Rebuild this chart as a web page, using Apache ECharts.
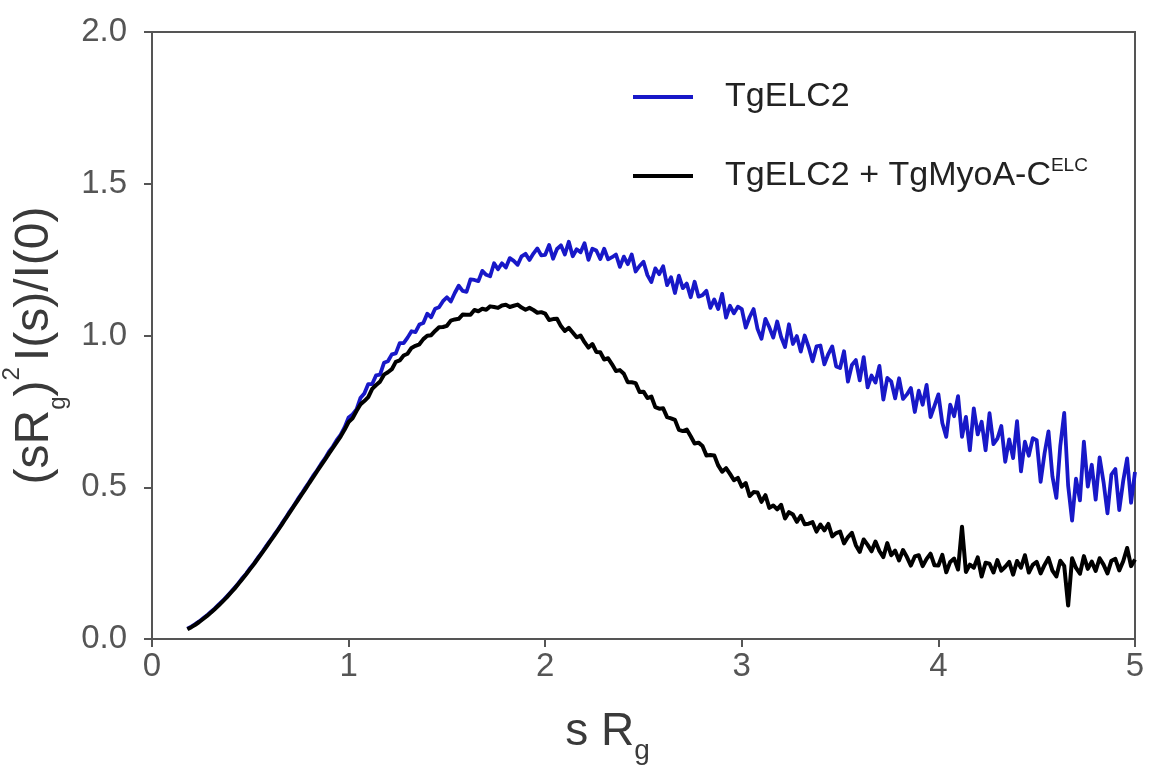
<!DOCTYPE html>
<html><head><meta charset="utf-8">
<script src="https://cdn.jsdelivr.net/npm/echarts@6/dist/echarts.min.js"></script>
<style>html,body{margin:0;padding:0;background:#fff}#c{width:1149px;height:768px}</style>
</head><body><div id="c"></div>
<script>
// sR_g values (shared by both curves)
const sRg = [
0.18,0.20,0.22,0.24,0.26,0.28,0.30,0.32,0.34,0.36,0.38,0.40,0.42,0.44,0.46,0.48,0.50,0.52,0.54,0.56,0.58,0.60,0.62,0.64,0.66,0.68,0.70,0.72,0.74,0.76,0.78,0.80,0.82,0.84,0.86,0.88,0.90,0.92,0.94,0.96,0.98,
1.00,1.02,1.04,1.06,1.08,1.10,1.12,1.14,1.16,1.18,1.20,1.22,1.24,1.26,1.28,1.30,1.32,1.34,1.36,1.38,1.40,1.42,1.44,1.46,1.48,1.50,1.52,1.54,1.56,1.58,1.60,1.62,1.64,1.66,1.68,1.70,1.72,1.74,1.76,1.78,1.80,1.82,1.84,1.86,1.88,1.90,1.92,1.94,1.96,1.98,
2.00,2.02,2.04,2.06,2.08,2.10,2.12,2.14,2.16,2.18,2.20,2.22,2.24,2.26,2.28,2.30,2.32,2.34,2.36,2.38,2.40,2.42,2.44,2.46,2.48,2.50,2.52,2.54,2.56,2.58,2.60,2.62,2.64,2.66,2.68,2.70,2.72,2.74,2.76,2.78,2.80,2.82,2.84,2.86,2.88,2.90,2.92,2.94,2.96,2.98,
3.00,3.02,3.04,3.06,3.08,3.10,3.12,3.14,3.16,3.18,3.20,3.22,3.24,3.26,3.28,3.30,3.32,3.34,3.36,3.38,3.40,3.42,3.44,3.46,3.48,3.50,3.52,3.54,3.56,3.58,3.60,3.62,3.64,3.66,3.68,3.70,3.72,3.74,3.76,3.78,3.80,3.82,3.84,3.86,3.88,3.90,3.92,3.94,3.96,3.98,
4.00,4.02,4.04,4.06,4.08,4.10,4.12,4.14,4.16,4.18,4.20,4.22,4.24,4.26,4.28,4.30,4.32,4.34,4.36,4.38,4.40,4.42,4.44,4.46,4.48,4.50,4.52,4.54,4.56,4.58,4.60,4.62,4.64,4.66,4.68,4.70,4.72,4.74,4.76,4.78,4.80,4.82,4.84,4.86,4.88,4.90,4.92,4.94,4.96,4.98,5.00
];

// TgELC2 (blue)
const tgELC2 = [
0.034,0.041,0.049,0.058,0.068,0.078,0.090,0.101,0.114,0.126,0.140,0.154,0.169,0.184,0.201,0.216,0.234,0.250,0.269,0.286,0.305,0.323,0.342,0.360,0.380,0.399,0.420,0.438,0.459,0.478,0.498,0.517,0.538,0.556,0.577,0.595,0.617,0.634,0.656,0.673,0.698,
0.730,0.740,0.756,0.794,0.809,0.840,0.840,0.869,0.871,0.910,0.915,0.938,0.941,0.975,0.975,0.993,1.014,1.011,1.036,1.041,1.072,1.060,1.088,1.093,1.113,
1.126,1.112,1.140,1.164,1.147,1.144,1.185,1.183,1.179,1.213,1.200,1.195,1.238,1.218,1.238,1.224,1.255,1.246,1.233,1.261,1.269,1.249,1.270,1.287,1.264,
1.266,1.298,1.253,1.285,1.297,1.267,1.309,1.261,1.284,1.274,1.304,1.249,1.286,1.280,1.252,1.286,1.251,1.258,1.267,1.226,1.260,1.235,1.267,1.211,1.229,
1.243,1.199,1.176,1.221,1.202,1.228,1.166,1.192,1.140,1.197,1.156,1.171,1.126,1.177,1.128,1.133,1.147,1.091,1.119,1.087,1.137,1.059,1.098,1.073,1.095,
1.087,1.026,1.061,1.087,1.022,0.989,1.055,1.027,0.993,1.046,0.995,0.962,1.037,0.972,0.998,0.947,1.000,0.962,0.915,0.964,0.967,0.905,0.939,0.964,0.898,
0.893,0.948,0.848,0.903,0.919,0.852,0.929,0.829,0.868,0.845,0.900,0.789,0.860,0.849,0.793,0.859,0.791,0.806,0.827,0.748,0.818,0.772,0.837,0.731,0.768,
0.806,0.712,0.666,0.772,0.734,0.800,0.666,0.732,0.622,0.760,0.674,0.716,0.622,0.744,0.642,0.660,0.702,0.584,0.658,0.596,0.718,0.552,0.650,0.604,0.662,
0.655,0.518,0.612,0.684,0.536,0.465,0.636,0.745,0.505,0.390,0.528,0.457,0.650,0.502,0.574,0.459,0.598,0.517,0.414,0.542,0.560,0.425,0.521,0.595,0.449,0.550
];

// TgELC2 + TgMyoA-C(ELC) (black)
const tgELC2MyoA = [
0.032,0.039,0.047,0.056,0.066,0.076,0.087,0.099,0.111,0.124,0.137,0.152,0.166,0.182,0.198,0.214,0.231,0.248,0.266,0.284,0.302,0.321,0.339,0.358,0.377,0.397,0.416,0.436,0.455,0.475,0.494,0.514,0.533,0.553,0.572,0.591,0.611,0.630,0.649,0.668,0.690,
0.715,0.727,0.751,0.773,0.784,0.797,0.824,0.837,0.848,0.871,0.879,0.889,0.913,0.918,0.934,0.940,0.959,0.966,0.971,0.988,0.999,1.001,1.015,1.027,1.028,
1.032,1.049,1.053,1.055,1.069,1.068,1.068,1.084,1.080,1.088,1.085,1.096,1.094,1.091,1.099,1.101,1.094,1.098,1.102,1.092,1.085,1.091,1.084,1.075,1.077,
1.072,1.051,1.054,1.055,1.031,1.015,1.025,1.010,0.994,1.000,0.978,0.960,0.972,0.946,0.945,0.921,0.925,0.905,0.883,0.886,
0.874,0.846,0.846,0.843,0.814,0.815,0.794,0.799,0.764,0.759,0.760,0.731,0.727,0.722,0.689,0.685,0.690,0.668,0.644,0.647,
0.636,0.605,0.606,0.605,0.572,0.551,0.563,0.544,0.523,0.531,
0.502,0.514,0.471,0.484,0.483,0.452,0.474,0.432,0.440,0.427,0.442,0.397,0.418,0.410,0.386,0.406,0.378,0.380,0.385,0.354,0.377,0.358,0.379,0.338,0.349,
0.354,0.315,0.336,0.350,0.309,0.287,0.328,0.310,0.289,0.321,0.290,0.270,0.316,0.276,0.291,0.259,0.293,0.270,0.242,0.272,0.276,0.240,0.264,0.281,0.243,
0.242,0.277,0.220,0.254,0.265,0.229,0.370,0.221,0.245,0.235,
0.269,0.206,0.251,0.248,0.219,0.260,0.225,0.238,0.254,0.212,
0.257,0.235,0.276,0.219,0.244,0.254,0.216,0.244,0.267,0.225,
0.206,0.258,0.241,0.110,0.266,0.234,0.215,0.273,0.231,0.255,
0.224,0.266,0.245,0.216,0.258,0.264,0.226,0.256,0.300,0.240,
0.262
];

const seriesNames = ['TgELC2', 'TgELC2 + TgMyoA-CELC'];
const xTickValues = [0, 1, 2, 3, 4, 5];
const yTickLabels = ['0.0', '0.5', '1.0', '1.5', '2.0'];

const FONT = "'Liberation Sans', Arial, Helvetica, sans-serif";
const AX = '#555555';
const TITLE = '#3a3a3a';

const chart = echarts.init(document.getElementById('c'), null, {renderer: 'canvas'});
const option = {
  animation: false,
  backgroundColor: '#ffffff',
  textStyle: {fontFamily: FONT},
  grid: {left: 152, right: 14, top: 32, bottom: 129, outerBoundsMode: 'none', containLabel: false,
    show: true, borderColor: AX, borderWidth: 2, backgroundColor: 'transparent'},
  legend: {
    orient: 'vertical', left: 633, top: 80, padding: 0,
    itemWidth: 60, itemHeight: 4, itemGap: 42, icon: 'rect',
    data: seriesNames,
    formatter: function (name) {
      return name === seriesNames[0] ? '{t|TgELC2}' : '{t|TgELC2 + TgMyoA-C}{s|ELC}';
    },
    textStyle: {
      fontFamily: FONT, color: '#222', padding: [0, 0, 0, 27],
      rich: {
        t: {fontSize: 34, lineHeight: 40, color: '#222', fontFamily: FONT},
        s: {fontSize: 19, lineHeight: 26, verticalAlign: 'top', color: '#222', fontFamily: FONT}
      }
    }
  },
  xAxis: {
    type: 'value', min: xTickValues[0], max: xTickValues[xTickValues.length - 1], interval: 1,
    axisLine: {show: true, onZero: false, lineStyle: {color: AX, width: 2}},
    axisTick: {show: true, length: 8, lineStyle: {color: AX, width: 2}},
    splitLine: {show: false},
    axisLabel: {fontSize: 33, color: AX, margin: 11, fontFamily: FONT, showMinLabel: true, showMaxLabel: true},
    name: '{n|s R}{g|g}',
    nameLocation: 'middle', nameGap: 60,
    nameTextStyle: {
      padding: [0, 72, 0, 0],
      rich: {
        n: {fontSize: 46, lineHeight: 66, color: TITLE, fontFamily: FONT},
        g: {fontSize: 28, lineHeight: 28, verticalAlign: 'bottom', color: TITLE, fontFamily: FONT}
      }
    }
  },
  yAxis: {
    type: 'value', min: 0, max: 2, interval: 0.5,
    axisLine: {show: true, onZero: false, lineStyle: {color: AX, width: 2}},
    axisTick: {show: true, length: 8, lineStyle: {color: AX, width: 2}},
    splitLine: {show: false},
    axisLabel: {fontSize: 33, color: AX, margin: 25, fontFamily: FONT,
      formatter: function (v) { return yTickLabels[Math.round(v / 0.5)]; }},
    name: '{n|(sR}{g|g}{n|)}{p|2}{n|I(s)/I(0)}',
    nameLocation: 'middle', nameGap: 74, nameRotate: 90,
    nameTextStyle: {
      padding: [0, 20, 0, 0],
      rich: {
        n: {fontSize: 48, lineHeight: 70, color: TITLE, fontFamily: FONT},
        g: {fontSize: 24, lineHeight: 22, verticalAlign: 'bottom', color: TITLE, fontFamily: FONT},
        p: {fontSize: 24, lineHeight: 52, verticalAlign: 'top', padding: [0, 6, 0, 0], color: TITLE, fontFamily: FONT}
      }
    }
  },
  series: [
    {
      name: seriesNames[0], type: 'line', showSymbol: false, symbol: 'none', sampling: 'none',
      data: sRg.map(function (x, i) { return [x, tgELC2[i]]; }),
      lineStyle: {color: '#1818c8', width: 3.8, join: 'round'}, itemStyle: {color: '#1818c8'}, z: 2
    },
    {
      name: seriesNames[1], type: 'line', showSymbol: false, symbol: 'none', sampling: 'none',
      data: sRg.map(function (x, i) { return [x, tgELC2MyoA[i]]; }),
      lineStyle: {color: '#000000', width: 4, join: 'round'}, itemStyle: {color: '#000000'}, z: 3
    }
  ]
};
chart.setOption(option);
</script>
</body></html>
